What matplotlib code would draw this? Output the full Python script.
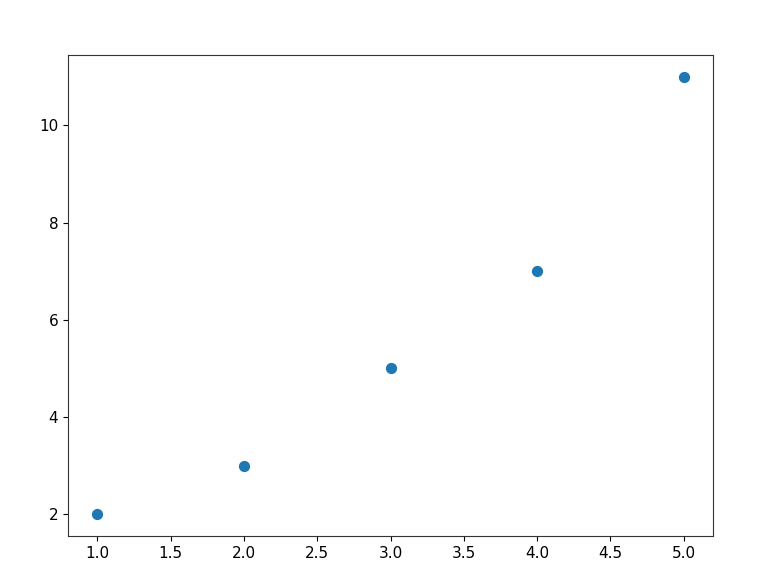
import matplotlib
matplotlib.use("Agg")
import matplotlib.pyplot as plt

x_values = [1, 2, 3, 4, 5]
y_values = [2, 3, 5, 7, 11]

plt.rcParams["font.size"] = 11
fig = plt.figure(figsize=(7.58, 5.63), dpi=100)
ax = fig.add_axes([68 / 758, 1 - 536 / 563, (713 - 68) / 758, (536 - 55) / 563])
ax.scatter(x_values, y_values, s=50)
for spine in ax.spines.values():
    spine.set_color("#333333")

fig.savefig("out.png", dpi=100)
